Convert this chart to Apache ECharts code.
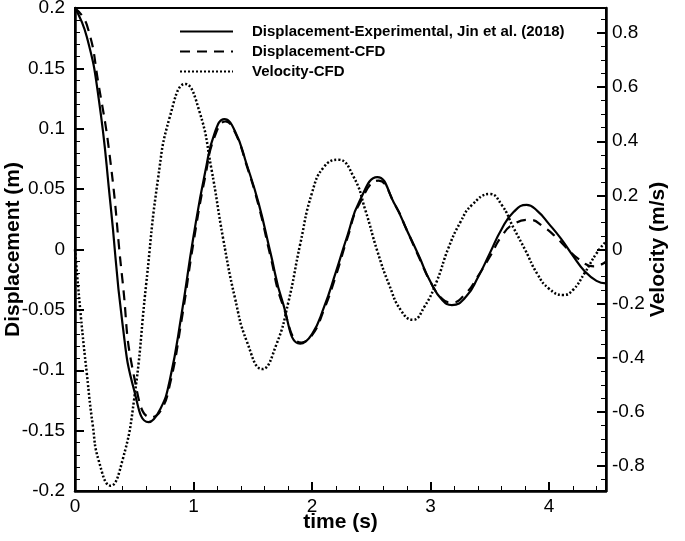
<!DOCTYPE html>
<html>
<head>
<meta charset="utf-8">
<title>Displacement and velocity</title>
<script src="https://cdn.jsdelivr.net/npm/echarts@6.0.0/dist/echarts.min.js"></script>
<style>
  html, body { margin: 0; padding: 0; background: #fff; }
  #main { width: 685px; height: 541px; }
</style>
</head>
<body>
<div id="main"></div>
<script>
// Displacement-Experimental, Jin et al. (2018): time (s) / displacement (m)
var timeExp = [0, 0.1, 0.2, 0.3, 0.4, 0.5, 0.62, 0.72, 0.8, 0.9,
  1.0, 1.1, 1.18, 1.26, 1.35, 1.45, 1.55, 1.65, 1.75, 1.9,
  2.0, 2.1, 2.2, 2.3, 2.4, 2.55, 2.7, 2.8, 2.9,
  3.0, 3.1, 3.18, 3.3, 3.4, 3.5, 3.6, 3.7, 3.81,
  3.9, 4.0, 4.1, 4.2, 4.3, 4.4, 4.48];
var dispExp = [0.200, 0.176, 0.125, 0.037, -0.061, -0.117, -0.143, -0.132, -0.108, -0.053,
  0.011, 0.065, 0.097, 0.108, 0.098, 0.070, 0.038, -0.003, -0.043, -0.078,
  -0.070, -0.048, -0.019, 0.012, 0.040, 0.060, 0.037, 0.016, -0.005,
  -0.027, -0.042, -0.046, -0.039, -0.023, -0.003, 0.017, 0.031, 0.037,
  0.032, 0.021, 0.009, -0.005, -0.018, -0.026, -0.028];

// Displacement-CFD
var timeCfd = [0, 0.1, 0.2, 0.3, 0.4, 0.5, 0.64, 0.72, 0.8, 0.9,
  1.0, 1.1, 1.18, 1.27, 1.35, 1.45, 1.55, 1.65, 1.75, 1.91,
  2.0, 2.1, 2.2, 2.3, 2.4, 2.56, 2.7, 2.8, 2.9,
  3.0, 3.1, 3.18, 3.3, 3.4, 3.5, 3.6, 3.7, 3.84,
  3.95, 4.05, 4.15, 4.25, 4.38, 4.48];
var dispCfd = [0.200, 0.186, 0.136, 0.072, -0.025, -0.106, -0.139, -0.134, -0.112, -0.058,
  0.006, 0.061, 0.094, 0.106, 0.097, 0.069, 0.036, -0.006, -0.045, -0.077,
  -0.071, -0.050, -0.022, 0.010, 0.038, 0.057, 0.037, 0.016, -0.006,
  -0.027, -0.041, -0.044, -0.036, -0.022, -0.006, 0.011, 0.021, 0.0245,
  0.019, 0.011, 0.001, -0.008, -0.014, -0.010];

// Velocity-CFD: time (s) / velocity (m/s)
var timeVel = [0, 0.05, 0.1, 0.15, 0.2, 0.3, 0.4, 0.5, 0.6, 0.7,
  0.8, 0.93, 1.05, 1.15, 1.25, 1.35, 1.45, 1.58, 1.7, 1.8,
  1.9, 2.0, 2.1, 2.22, 2.35, 2.45, 2.55, 2.65, 2.75, 2.85,
  2.95, 3.05, 3.15, 3.25, 3.35, 3.5, 3.6, 3.7, 3.8, 3.9,
  4.0, 4.12, 4.2, 4.3, 4.4, 4.48];
var velCfd = [0, -0.25, -0.46, -0.65, -0.78, -0.873, -0.78, -0.55, -0.13, 0.26,
  0.49, 0.612, 0.51, 0.30, 0.04, -0.18, -0.34, -0.442, -0.35, -0.195,
  0.02, 0.21, 0.305, 0.332, 0.269, 0.145, -0.005, -0.13, -0.225, -0.26,
  -0.21, -0.12, 0.005, 0.10, 0.165, 0.205, 0.165, 0.08, -0.003, -0.09,
  -0.145, -0.168, -0.15, -0.087, -0.014, 0.03];

var timeTicks = [0, 1, 2, 3, 4];
var velTicks = [-0.8, -0.6, -0.4, -0.2, 0, 0.2, 0.4, 0.6, 0.8];
var seriesNames = ['Displacement-Experimental, Jin et al. (2018)', 'Displacement-CFD', 'Velocity-CFD'];

var X_MAX = 4.48;
var V_MAX = 0.8925;

function pairUp(xs, ys) {
  var out = [];
  for (var i = 0; i < xs.length; i++) {
    out.push([xs[i], ys[i]]);
  }
  return out;
}

// minor tick positions (skip the labelled ones)
function minorSteps(min, max, step, major) {
  var out = [];
  var n = Math.round((max - min) / step);
  for (var i = 0; i <= n; i++) {
    var v = +(min + i * step).toFixed(4);
    if (major.indexOf(v) < 0) out.push(v);
  }
  return out;
}

var font = 'Liberation Sans, Arial, sans-serif';
var nameStyle = { color: '#000', fontSize: 21, fontWeight: 'bold', fontFamily: font };
var axisLine = { show: true, onZero: false, lineStyle: { color: '#000', width: 2.5 } };
var noLine = { show: false, onZero: false };

var myChart = echarts.init(document.getElementById('main'), null, { renderer: 'canvas' });

var option = {
  backgroundColor: '#fff',
  animation: false,
  grid: {
    left: 75, right: 79, top: 8, bottom: 50,
    outerBoundsMode: 'none',
    show: true, borderColor: '#000', borderWidth: 2
  },
  legend: {
    orient: 'vertical', left: 174, top: 19,
    itemWidth: 53, itemHeight: 14, itemGap: 5,
    data: seriesNames,
    itemStyle: { opacity: 0 },
    textStyle: { color: '#000', fontSize: 15, fontWeight: 'bold', fontFamily: font, padding: [0, 0, 0, 14] }
  },
  xAxis: [
    {
      type: 'value', min: 0, max: X_MAX, position: 'bottom',
      name: 'time (s)', nameLocation: 'middle', nameGap: 21, nameMoveOverlap: false, nameTextStyle: nameStyle,
      axisLine: axisLine,
      axisTick: { show: true, inside: true, length: 9, customValues: timeTicks, lineStyle: { color: '#000', width: 2 } },
      axisLabel: { customValues: timeTicks, margin: 6, color: '#000', fontSize: 19, fontFamily: font },
      splitLine: { show: false }
    },
    {
      type: 'value', min: 0, max: X_MAX, position: 'bottom',
      axisLine: noLine,
      axisTick: { show: true, inside: true, length: 5, customValues: minorSteps(0, 4.4, 0.2, timeTicks), lineStyle: { color: '#000', width: 1 } },
      axisLabel: { show: false },
      splitLine: { show: false }
    }
  ],
  yAxis: [
    {
      type: 'value', min: -0.2, max: 0.2, interval: 0.05, position: 'left',
      name: 'Displacement (m)', nameLocation: 'middle', nameGap: 51, nameRotate: 90, nameMoveOverlap: false, nameTextStyle: nameStyle,
      axisLine: axisLine,
      axisTick: { show: true, inside: true, length: 9, lineStyle: { color: '#000', width: 2 } },
      minorTick: { show: true, splitNumber: 5, length: 5, lineStyle: { color: '#000', width: 1 } },
      axisLabel: { margin: 10, color: '#000', fontSize: 19, fontFamily: font },
      splitLine: { show: false }
    },
    {
      type: 'value', min: -V_MAX, max: V_MAX, position: 'right',
      name: 'Velocity (m/s)', nameLocation: 'middle', nameGap: 42, nameRotate: 90, nameMoveOverlap: false, nameTextStyle: nameStyle,
      axisLine: axisLine,
      axisTick: { show: true, inside: true, length: 9, customValues: velTicks, lineStyle: { color: '#000', width: 2 } },
      axisLabel: { customValues: velTicks, margin: 6, color: '#000', fontSize: 19, fontFamily: font },
      splitLine: { show: false }
    },
    {
      type: 'value', min: -V_MAX, max: V_MAX, position: 'right',
      axisLine: noLine,
      axisTick: { show: true, inside: true, length: 5, customValues: minorSteps(-0.85, 0.85, 0.05, velTicks), lineStyle: { color: '#000', width: 1 } },
      axisLabel: { show: false },
      splitLine: { show: false }
    }
  ],
  series: [
    {
      name: seriesNames[0], type: 'line', xAxisIndex: 0, yAxisIndex: 0,
      symbol: 'none', smooth: true,
      lineStyle: { color: '#000', width: 2.2, type: 'solid' },
      itemStyle: { color: '#000' },
      data: pairUp(timeExp, dispExp)
    },
    {
      name: seriesNames[1], type: 'line', xAxisIndex: 0, yAxisIndex: 0,
      symbol: 'none', smooth: true,
      lineStyle: { color: '#000', width: 2.2, type: [10, 7] },
      itemStyle: { color: '#000' },
      data: pairUp(timeCfd, dispCfd)
    },
    {
      name: seriesNames[2], type: 'line', xAxisIndex: 0, yAxisIndex: 1,
      symbol: 'none', smooth: true,
      lineStyle: { color: '#000', width: 2.5, type: [2, 2] },
      itemStyle: { color: '#000' },
      data: pairUp(timeVel, velCfd)
    }
  ]
};
myChart.setOption(option);
</script>
</body>
</html>
